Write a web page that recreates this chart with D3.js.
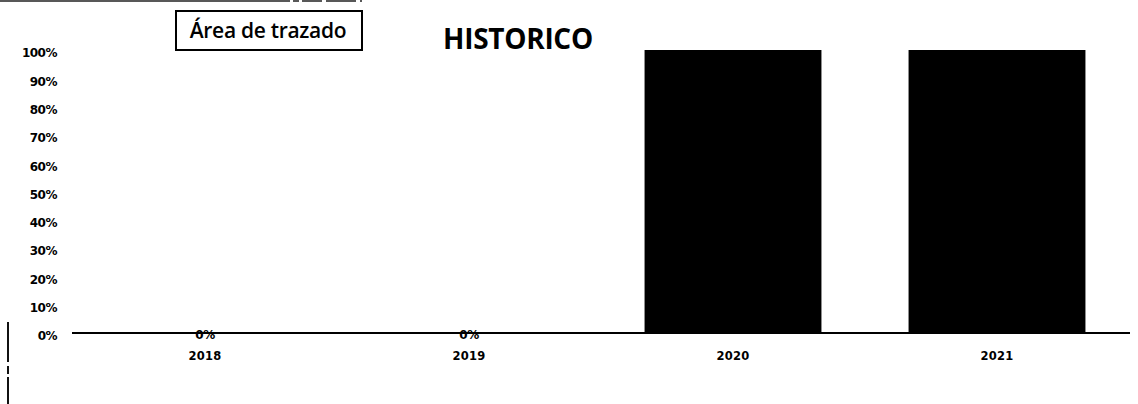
<!DOCTYPE html>
<html><head><meta charset="utf-8">
<script src="https://cdn.jsdelivr.net/npm/d3@7"></script>
<style>body{margin:0;background:#fff}svg{display:block}</style>
</head><body>
<svg id="c" width="1138" height="404"></svg>
<script>
const categories = ["2018", "2019", "2020", "2021"];
const values = [0, 0, 1, 1];
const yTicks = [0, 0.1, 0.2, 0.3, 0.4, 0.5, 0.6, 0.7, 0.8, 0.9, 1];
const title = "HISTORICO";
const plotAreaLabel = "Área de trazado";

const svg = d3.select("#c");
const x = d3.scaleBand().domain(categories).range([73, 1129]).paddingInner(0.33).paddingOuter(0.165);
const y = d3.scaleLinear().domain([0, 1]).range([333, 50]);
const fmt = d3.format(".0%");
const tickFont = "DejaVu Sans";

// scan frame artifacts
svg.append("line").attr("x1", 0).attr("x2", 362).attr("y1", 1).attr("y2", 1)
  .attr("stroke", "#222").attr("stroke-width", 1.5).attr("stroke-dasharray", "290,3,6,3,20,4,30,4");
svg.append("line").attr("x1", 8).attr("x2", 8).attr("y1", 322).attr("y2", 404)
  .attr("stroke", "#111").attr("stroke-width", 2).attr("stroke-dasharray", "40,4,8,3,30");

// y axis labels
const yAxis = d3.axisLeft(y).tickValues(yTicks).tickFormat(fmt).tickSize(0).tickPadding(0);
const ga = svg.append("g").attr("transform", "translate(57,3)").call(yAxis);
ga.select(".domain").remove();
ga.selectAll("text").attr("font-family", tickFont).attr("font-weight", "bold")
  .attr("font-size", 12).attr("fill", "#000").attr("letter-spacing", "-0.5");

// bars
svg.append("g").selectAll("rect").data(values).join("rect")
  .attr("x", (d, i) => x(categories[i]))
  .attr("width", x.bandwidth())
  .attr("y", d => y(d))
  .attr("height", d => y(0) - y(d))
  .attr("fill", "#000");

// x axis line + labels
const xAxis = d3.axisBottom(x).tickSize(0).tickPadding(19);
const gx = svg.append("g").attr("transform", `translate(0,${y(0)})`).call(xAxis);
gx.select(".domain").attr("stroke", "#000").attr("stroke-width", 2)
  .attr("d", `M${x.range()[0] - 1},0H${x.range()[1] + 1}`);
gx.selectAll("text").attr("font-family", tickFont).attr("font-weight", "bold")
  .attr("font-size", 11.5).attr("fill", "#000").attr("letter-spacing", "0.3");

// data labels
svg.append("g").selectAll("text").data(values).join("text")
  .attr("x", (d, i) => x(categories[i]) + x.bandwidth() / 2)
  .attr("y", d => d === 0 ? y(0) + 6 : y(d) + 14)
  .attr("text-anchor", "middle")
  .attr("font-family", tickFont).attr("font-weight", "bold").attr("font-size", 12)
  .attr("letter-spacing", "-0.5")
  .attr("fill", "#000").text(d => fmt(d));

// title
svg.append("text").attr("x", 518).attr("y", 49).attr("text-anchor", "middle")
  .attr("font-family", "Open Sans").attr("font-weight", "bold").attr("font-size", 28)
  .attr("letter-spacing", "-0.3")
  .attr("fill", "#000").text(title);

// plot area tooltip box
svg.append("rect").attr("x", 176).attr("y", 11).attr("width", 186).attr("height", 39)
  .attr("fill", "#fff").attr("stroke", "#000").attr("stroke-width", 2);
svg.append("text").attr("x", 268).attr("y", 38).attr("text-anchor", "middle")
  .attr("font-family", "Open Sans").attr("font-weight", 600).attr("font-size", 21)
  .attr("letter-spacing", "-0.3")
  .attr("fill", "#000").text(plotAreaLabel);
</script>
</body></html>
